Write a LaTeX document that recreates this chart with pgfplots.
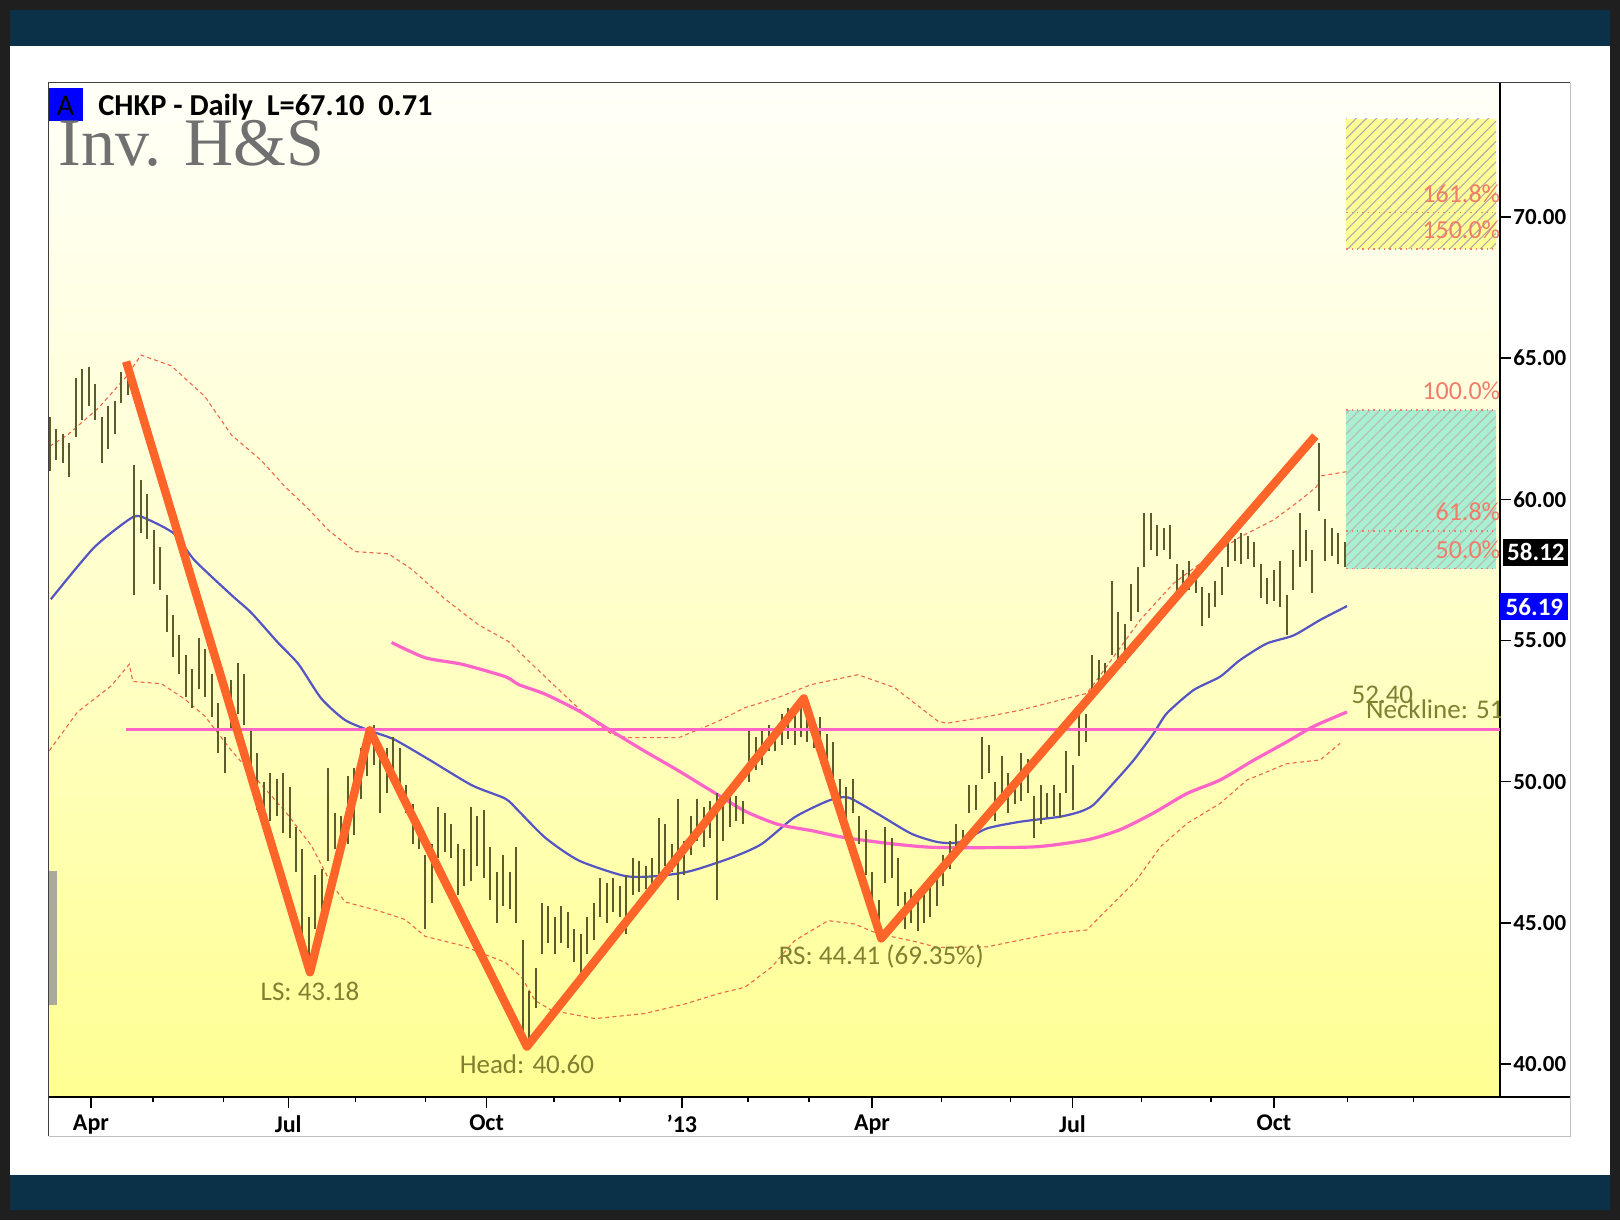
\documentclass[border=0pt]{standalone}
\usepackage{fontspec}
\setmainfont{Carlito}
\newfontfamily\titleserif{Liberation Serif}
\usepackage{pgfplots}
\pgfplotsset{compat=1.18}
\usepackage{pgfplotstable}
\usetikzlibrary{patterns.meta}

\definecolor{navy}{RGB}{11,49,72}
\definecolor{barcol}{RGB}{92,92,42}
\definecolor{bandcol}{RGB}{236,104,72}
\definecolor{macol}{RGB}{84,84,196}
\definecolor{pinkcol}{RGB}{255,100,200}
\definecolor{orangecol}{RGB}{255,100,40}
\definecolor{olivetxt}{RGB}{128,128,50}
\definecolor{fibcol}{RGB}{240,125,105}
\definecolor{mint}{RGB}{168,240,208}
\definecolor{hyellow}{RGB}{255,255,150}

\pgfplotstableread{
x lo hi
-19 61.0 62.9
-16 61.4 62.5
-13 61.3 62.3
-10 60.8 62.0
-7 62.2 64.3
-4 62.8 64.6
-1 63.3 64.7
2 62.8 64.1
5 61.3 62.9
8 61.8 63.3
11 62.3 63.5
14 63.4 64.5
17 63.7 64.8
20 56.6 61.2
23 58.8 60.7
26 58.6 60.2
29 57.0 58.9
32 56.8 58.3
35 55.3 56.6
38 54.4 55.9
41 53.8 55.2
44 53.0 54.5
47 52.6 54.0
50 53.3 55.1
53 53.0 54.7
56 52.3 53.8
59 51.0 52.8
62 50.3 51.6
65 51.8 53.6
68 52.4 54.2
71 52.0 53.8
74 50.3 51.9
77 49.0 51.0
80 48.4 50.0
83 48.6 50.3
86 48.8 50.1
89 48.2 50.3
92 48.0 49.8
95 46.8 48.4
98 44.0 47.6
101 43.2 45.2
104 44.8 46.7
107 45.2 46.9
110 47.2 50.5
113 47.6 48.9
116 47.3 48.8
119 47.8 50.2
122 48.1 50.5
125 49.4 51.2
128 50.2 51.9
131 50.6 52.0
134 48.9 51.0
137 49.6 51.2
140 50.0 51.6
143 49.8 51.2
146 48.9 49.9
149 47.8 49.2
152 47.6 48.6
155 44.8 47.4
158 45.7 47.8
161 47.3 49.1
164 47.5 48.9
167 47.3 48.5
170 46.0 47.8
173 46.3 47.6
176 46.5 49.1
179 47.0 48.8
182 46.6 49.0
185 45.8 47.7
188 45.0 46.8
191 45.6 47.4
194 45.5 46.8
197 45.0 47.7
200 41.0 44.4
203 40.6 42.6
206 42.0 43.4
209 43.9 45.7
212 44.3 45.6
215 43.9 45.2
218 44.3 45.6
221 44.1 45.4
224 43.6 44.8
227 43.2 44.6
230 43.9 45.2
233 44.4 45.7
236 45.2 46.6
239 45.0 46.4
242 45.4 46.6
245 45.2 46.3
248 44.6 46.7
251 46.0 47.3
254 46.1 47.2
257 46.2 47.0
260 46.4 47.3
263 46.7 48.7
266 47.0 48.5
269 46.8 47.8
272 45.8 49.4
275 46.7 47.9
278 47.4 48.8
281 47.9 49.4
284 47.7 49.1
287 48.0 49.3
290 45.8 49.6
293 47.9 49.4
296 48.4 49.7
299 48.6 49.5
302 48.5 49.3
305 50.0 51.8
308 50.4 51.6
311 50.6 51.9
314 51.1 52.0
317 51.1 51.9
320 51.3 52.4
323 51.5 52.6
326 51.3 52.4
329 51.6 52.8
332 51.4 52.4
335 51.2 52.1
338 51.1 52.3
341 50.6 51.7
344 50.0 51.4
347 49.2 50.1
350 48.6 49.8
353 48.9 50.1
356 47.8 48.8
359 46.7 48.3
362 45.4 46.8
365 44.4 45.8
368 46.4 48.4
371 46.6 48.0
374 45.6 47.3
377 44.8 46.1
380 45.0 46.2
383 44.7 45.9
386 45.0 46.4
389 45.2 46.4
392 45.6 46.7
395 46.3 47.4
398 46.9 47.9
401 47.5 48.5
404 47.6 48.3
407 48.9 49.9
410 49.0 49.9
413 50.1 51.6
416 50.3 51.3
419 48.6 50.0
422 49.2 50.9
425 48.9 50.3
428 49.2 50.1
431 49.3 51.0
434 49.6 50.8
437 48.0 49.5
440 48.5 49.9
443 48.7 49.6
446 48.8 49.9
449 48.7 49.6
452 49.6 51.1
455 49.0 50.6
458 50.9 52.4
461 51.4 52.4
464 53.1 54.5
467 53.3 54.3
470 53.6 54.2
473 54.5 57.1
476 54.0 56.0
479 54.2 55.6
482 55.7 57.0
485 56.0 57.6
488 57.6 59.5
491 58.2 59.5
494 58.0 59.1
497 58.2 59.0
500 57.9 59.1
503 56.4 57.7
506 56.6 57.5
509 56.8 57.8
512 56.7 57.5
515 55.5 56.9
518 55.8 56.7
521 56.2 57.1
524 56.6 57.6
527 57.6 58.7
530 57.8 58.6
533 57.7 58.8
536 57.9 58.7
539 57.6 58.5
542 56.5 57.7
545 56.3 57.2
548 56.4 57.5
551 56.2 57.8
554 55.2 56.6
557 56.8 58.2
560 57.6 59.5
563 57.8 58.9
566 56.7 58.2
569 59.6 62.0
572 57.8 59.3
575 58.0 59.0
578 57.7 58.8
581 57.6 58.5
}\bars

\begin{document}
\begin{tikzpicture}
\fill[black!88] (0pt,0pt) rectangle (810pt,610pt);
\useasboundingbox (0pt,0pt) rectangle (810pt,610pt);
\fill[navy] (5.2pt,587pt) rectangle (804.8pt,604.9pt);
\fill[white] (5.2pt,22.5pt) rectangle (804.8pt,587pt);
\fill[navy] (5.2pt,5pt) rectangle (804.8pt,22.5pt);

\begin{axis}[
  at={(24.3pt,61.45pt)}, anchor=south west,
  width=725.7pt, height=507.25pt, scale only axis,
  xmin=-19.63, xmax=652.9, ymin=38.83, ymax=74.76,
  axis x line*=bottom, axis y line*=right,
  x axis line style={-, black, line width=1.2pt},
  y axis line style={-, black, line width=0.8pt},
  tick align=outside,
  major tick length=5.5pt, minor tick length=2.5pt,
  tick style={black, line width=0.7pt},
  xtick={0,91.4,183.3,273.8,361.9,454.8,548.1},
  xticklabels={Apr,Jul,Oct,'13,Apr,Jul,Oct},
  minor xtick={28.7,61.3,122.5,155.1,214.5,245.1,304.4,332.7,394,426,486.8,518.9,582.1,612.7},
  ytick={40,45,...,70},
  /pgf/number format/assume math mode=true,
  tick label style={font=\fontsize{12}{14}\selectfont\bfseries},
  y tick label style={font=\fontsize{11.5}{13}\selectfont\bfseries, inner xsep=1pt, /pgf/number format/fixed, /pgf/number format/fixed zerofill, /pgf/number format/precision=2},
  axis background/.style={top color={rgb,255:red,255;green,255;blue,248}, bottom color={rgb,255:red,255;green,255;blue,146}, middle color={rgb,255:red,255;green,255;blue,204}},
]
% gray strip at left edge
\addplot[draw=none, fill={rgb,255:red,170;green,170;blue,155}] coordinates {(-19.63,42.08) (-15.8,42.08) (-15.8,46.84) (-19.63,46.84)} -- cycle;

% Fibonacci target boxes
\addplot[draw=none, fill=hyellow] coordinates {(581.6,68.87) (651.1,68.87) (651.1,73.48) (581.6,73.48)} -- cycle;
\addplot[draw=none, pattern={Lines[angle=45,distance=3.6pt,line width=0.55pt]}, pattern color=gray!65] coordinates {(581.6,68.87) (651.1,68.87) (651.1,73.48) (581.6,73.48)} -- cycle;
\addplot[draw=none, fill=mint] coordinates {(581.6,57.55) (651.1,57.55) (651.1,63.16) (581.6,63.16)} -- cycle;
\addplot[draw=none, pattern={Lines[angle=45,distance=3.6pt,line width=0.55pt]}, pattern color=gray!55] coordinates {(581.6,57.55) (651.1,57.55) (651.1,63.16) (581.6,63.16)} -- cycle;
\addplot[fibcol, dotted, line width=0.7pt] coordinates {(581.6,70.15) (651.1,70.15)};
\addplot[fibcol, dotted, line width=0.7pt] coordinates {(581.6,68.87) (651.1,68.87)};
\addplot[fibcol, dotted, line width=0.7pt] coordinates {(581.6,63.16) (651.1,63.16)};
\addplot[fibcol, dotted, line width=0.7pt] coordinates {(581.6,58.88) (651.1,58.88)};
\addplot[fibcol, dotted, line width=0.7pt] coordinates {(581.6,57.55) (651.1,57.55)};

% Bollinger bands
\addplot[bandcol, line width=0.55pt, dash pattern=on 2pt off 1.6pt] coordinates {
(-19.1,61.88) (-10.9,62.28) (3.4,63.23) (16.3,64.34) (23.2,65.11) (37.2,64.73) (52.7,63.65) (65.1,62.28) (79,61.37) (89.9,60.45) (100.5,59.68) (110,58.91) (122.4,58.15) (137.9,58.07) (148.7,57.52) (164.2,56.46) (179.7,55.55) (193.4,54.97) (212,53.6) (230.5,52.27) (241.3,51.68) (248.9,51.56) (272.4,51.56) (290.6,52.14) (303,52.62) (318.3,52.98) (333.8,53.44) (355.4,53.79) (372.4,53.33) (392.5,52.14) (396.6,52.07) (415,52.30) (430.5,52.53) (449,52.89) (461.5,53.13) (470.6,54.08) (486.2,55.73) (501.7,57.03) (514,57.73) (532.5,58.67) (548,59.27) (560.3,59.97) (568,60.45) (569.2,60.82) (581.9,60.98)};
\addplot[bandcol, line width=0.55pt, dash pattern=on 2pt off 1.6pt] coordinates {
(-19.3,51.10) (-6.2,52.47) (9.3,53.39) (17.8,54.16) (19.4,53.55) (32.6,53.47) (43.4,52.93) (52.7,52.33) (65.1,51.10) (77.5,50.02) (89.9,48.96) (102.2,47.73) (111.5,46.36) (117.8,45.74) (133.1,45.43) (145.5,45.12) (154.9,44.52) (171.9,44.20) (192,43.60) (199.6,43.07) (205.8,42.25) (213.5,41.90) (233.6,41.61) (256.6,41.79) (275.3,42.13) (290.6,42.49) (303,42.72) (315.3,43.43) (326,44.37) (341.6,45.08) (353.9,44.96) (364.8,44.61) (380.1,44.37) (392.5,44.13) (415,44.15) (446,44.63) (461.5,44.75) (469.1,45.34) (484.4,46.51) (495.5,47.69) (507.8,48.52) (523.2,49.23) (535.7,50.06) (554.1,50.64) (569.6,50.77) (578.8,51.36)};

% moving averages
\addplot[macol, line width=1.1pt, smooth, tension=0.4] coordinates {
(-18.6,56.46) (1.4,58.29) (19.4,59.37) (26.3,59.29) (38.8,58.77) (47.9,57.85) (65.1,56.61) (74.2,55.99) (86.6,54.93) (96.2,54.16) (106.7,52.95) (117.8,52.18) (130.2,51.78) (140.7,51.49) (156.5,50.79) (176.6,49.87) (192,49.40) (198.2,48.96) (210.6,48.01) (226,47.21) (247.5,46.66) (262.8,46.66) (278.1,46.84) (296.8,47.31) (310.7,47.79) (326,48.74) (341.8,49.33) (350.9,49.44) (364.8,48.85) (380.1,48.16) (392.5,47.86) (402.6,47.86) (415,48.34) (430.4,48.58) (449,48.76) (458.4,48.94) (464.5,49.18) (473.8,49.95) (483,50.75) (492.3,51.70) (498.5,52.42) (510.8,53.24) (523.2,53.72) (532.3,54.30) (544.7,54.89) (557.2,55.18) (569.6,55.73) (582,56.22)};
\addplot[pinkcol, line width=1.6pt, smooth, tension=0.4] coordinates {
(139.3,54.93) (154.9,54.39) (171.9,54.16) (192,53.72) (198.2,53.44) (210.5,53.10) (226,52.51) (241.3,51.79) (256.6,51.08) (272.2,50.39) (287.6,49.67) (303,48.96) (318.3,48.49) (333.7,48.27) (349.3,48.02) (372.4,47.79) (392.5,47.67) (436.6,47.69) (461.5,47.94) (476.8,48.30) (492.3,48.89) (507.8,49.58) (523.2,50.06) (538.5,50.75) (554.1,51.41) (566.3,51.95) (582,52.47)};

% daily high-low bars
\addplot[draw=none, mark=none, error bars/.cd, y dir=plus, y explicit, error mark=none,
  error bar style={draw=barcol, solid, line width=1pt}]
  table[x=x, y=lo, y error plus expr=\thisrow{hi}-\thisrow{lo}] {\bars};

% neckline
\addplot[pinkcol, line width=1.5pt] coordinates {(16.3,51.85) (652.9,51.85)};

% pattern zigzag
\addplot[orangecol, line width=4.2pt, line join=round] coordinates {
(16.3,64.88) (101.5,43.25) (129.2,51.82) (202,40.62) (330.3,52.95) (366.2,44.45) (567.3,62.24)};

% labels
\node[text=olivetxt, font=\fontsize{13.5}{15}\selectfont] at (axis cs:101.5,42.56) {LS: 43.18};
\node[text=olivetxt, font=\fontsize{13.5}{15}\selectfont] at (axis cs:202,40.0) {Head: 40.60};
\node[text=olivetxt, font=\fontsize{13.5}{15}\selectfont] at (axis cs:366.2,43.80) {RS: 44.41 (69.35\%)};
\node[text=olivetxt, font=\fontsize{13.5}{15}\selectfont] at (axis cs:598.4,53.09) {52.40};
\node[text=olivetxt, font=\fontsize{13.5}{15}\selectfont, anchor=west, inner sep=0pt] at (axis cs:590.7,52.58) {Neckline: 51.85};

\node[text=fibcol, font=\fontsize{13}{14}\selectfont, anchor=base east, inner sep=0pt] at (axis cs:653.2,70.51) {161.8\%};
\node[text=fibcol, font=\fontsize{13}{14}\selectfont, anchor=base east, inner sep=0pt] at (axis cs:653.2,69.23) {150.0\%};
\node[text=fibcol, font=\fontsize{13}{14}\selectfont, anchor=base east, inner sep=0pt] at (axis cs:653.2,63.54) {100.0\%};
\node[text=fibcol, font=\fontsize{13}{14}\selectfont, anchor=base east, inner sep=0pt] at (axis cs:653.2,59.24) {61.8\%};
\node[text=fibcol, font=\fontsize{13}{14}\selectfont, anchor=base east, inner sep=0pt] at (axis cs:653.2,57.91) {50.0\%};

\coordinate (fa) at (axis cs:652.9,58.12);
\coordinate (fb) at (axis cs:652.9,56.19);
\end{axis}

% frame
\draw[black!75, line width=0.8pt] (24.3pt,41.8pt) -- (24.3pt,568.7pt) -- (785.15pt,568.7pt);
\draw[black!25, line width=0.7pt] (785.15pt,568.7pt) -- (785.15pt,41.8pt) -- (24.3pt,41.8pt);
\draw[black, line width=1.2pt] (749pt,61.45pt) -- (785.15pt,61.45pt);

% price flags
\node[fill=black, text=white, font=\fontsize{12.5}{14}\selectfont\bfseries, anchor=west, inner sep=0pt, minimum width=32.5pt, minimum height=13.5pt] at ([xshift=1.5pt]fa) {58.12};
\node[fill=blue, text=white, font=\fontsize{12.5}{14}\selectfont\bfseries, anchor=west, inner sep=0pt, minimum width=34pt, minimum height=13.5pt] at (fb) {56.19};

% titles
\fill[blue] (24.3pt,549.5pt) rectangle (41.3pt,566.1pt);
\node[font=\fontsize{15}{17}\selectfont, inner sep=0pt, anchor=base] at (32.8pt,552.1pt) {A};
\node[font=\fontsize{15.2}{17}\selectfont\bfseries, anchor=base west, inner sep=0pt] at (49pt,552.1pt) {CHKP - Daily\ \ L=67.10\ \ 0.71};
\node[font=\titleserif\fontsize{34}{36}\selectfont, text={rgb,255:red,112;green,112;blue,112}, anchor=base west, inner sep=0pt] at (29pt,527pt) {Inv. H\&S};
\end{tikzpicture}
\end{document}
